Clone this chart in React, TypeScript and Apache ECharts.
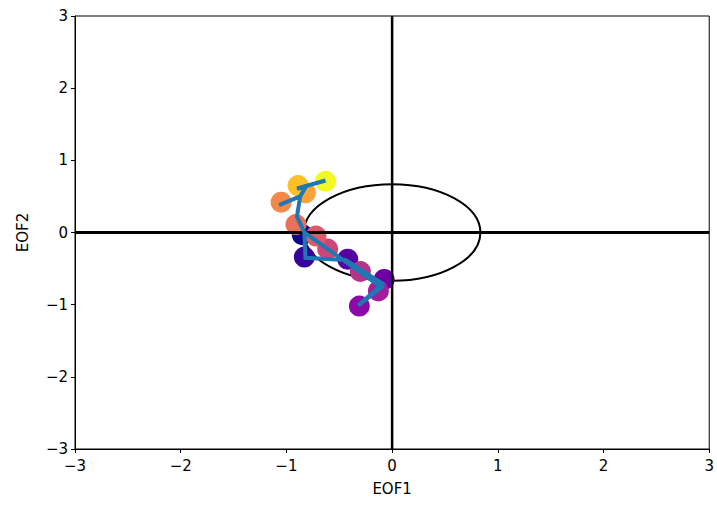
import React, { useEffect, useRef } from "react";
import * as echarts from "echarts";

// Scatter points (time-ordered, coloured with the plasma colormap)
const pointX = [-0.85, -0.83, -0.42, -0.075, -0.31, -0.13, -0.30, -0.61, -0.72, -0.91, -1.05, -0.82, -0.89, -0.63];
const pointY = [-0.03, -0.34, -0.37, -0.65, -1.02, -0.81, -0.54, -0.23, -0.05, 0.11, 0.42, 0.55, 0.65, 0.71];

// Trajectory line vertices
const lineX = [-0.83, -0.82, -0.44, -0.09, -0.32, -0.10, -0.83, -0.90, -0.87, -1.07, -0.87, -0.82, -0.90, -0.63];
const lineY = [0.02, -0.35, -0.38, -0.71, -1.01, -0.76, 0.0, 0.22, 0.5, 0.38, 0.5, 0.62, 0.61, 0.72];

// Reference ellipse: centre x, centre y, semi-axis x, semi-axis y
const ellipse = [[0, 0, 0.835, 0.67]];

// Axis ranges / ticks
const axisMin = -3;
const axisMax = 3;
const tickStep = 1;

const xName = "EOF1";
const yName = "EOF2";

const plasma = [
  "#0d0887", "#350498", "#5302a3", "#6f00a8", "#8b0aa5", "#a31e9a", "#b83289",
  "#cc4778", "#db5c68", "#e97158", "#f48849", "#fba238", "#fec029", "#f0f921",
];

const FONT = "DejaVu Sans";
const fmt = (v: number) => String(v).replace("-", "\u2212");

export default function App() {
  const ref = useRef<HTMLDivElement>(null);
  useEffect(() => {
    if (!ref.current) return;
    const chart = echarts.init(ref.current, undefined, { renderer: "svg" });
    const axisCommon = {
      type: "value" as const,
      min: axisMin,
      max: axisMax,
      interval: tickStep,
      splitLine: { show: false },
      axisLine: { show: true, onZero: false, lineStyle: { color: "#000", width: 1 } },
      axisTick: { show: true, inside: false, length: 4, lineStyle: { color: "#000", width: 1 } },
      axisLabel: { color: "#000", fontSize: 15, fontFamily: FONT, formatter: fmt, margin: 7 },
      nameTextStyle: { color: "#000", fontSize: 15, fontFamily: FONT },
    };
    chart.setOption({
      animation: false,
      backgroundColor: "#fff",
      grid: {
        left: 75, top: 16, right: 7, bottom: 57,
        show: true, borderColor: "#000", borderWidth: 1, backgroundColor: "transparent",
      },
      xAxis: {
        ...axisCommon,
        axisLabel: { ...axisCommon.axisLabel, margin: 9 },
        name: xName, nameLocation: "middle", nameGap: 32,
      },
      yAxis: { ...axisCommon, name: yName, nameLocation: "middle", nameGap: 45 },
      series: [
        {
          type: "line",
          data: [[axisMin, 0], [axisMax, 0]],
          symbol: "none",
          lineStyle: { color: "#000", width: 3 },
          silent: true,
        },
        {
          type: "line",
          data: [[0, axisMin], [0, axisMax]],
          symbol: "none",
          lineStyle: { color: "#000", width: 2.5 },
          silent: true,
        },
        {
          type: "custom",
          data: ellipse,
          renderItem: (params: any, api: any) => {
            const c = api.coord([api.value(0), api.value(1)]);
            const s = api.size([api.value(2), api.value(3)]);
            return {
              type: "ellipse",
              shape: { cx: c[0], cy: c[1], rx: s[0], ry: s[1] },
              style: { fill: "none", stroke: "#000", lineWidth: 2 },
            };
          },
          silent: true,
        },
        {
          type: "scatter",
          data: pointX.map((x, i) => ({
            value: [x, pointY[i]],
            itemStyle: { color: plasma[i], opacity: 1 },
          })),
          symbolSize: 21,
          silent: true,
        },
        {
          type: "line",
          data: lineX.map((x, i) => [x, lineY[i]]),
          symbol: "none",
          lineStyle: { color: "#1f77b4", width: 4, join: "miter" },
          silent: true,
        },
      ],
    });
    return () => chart.dispose();
  }, []);
  return <div ref={ref} style={{ width: 717, height: 506, position: "absolute", left: 0, top: 0 }} />;
}
